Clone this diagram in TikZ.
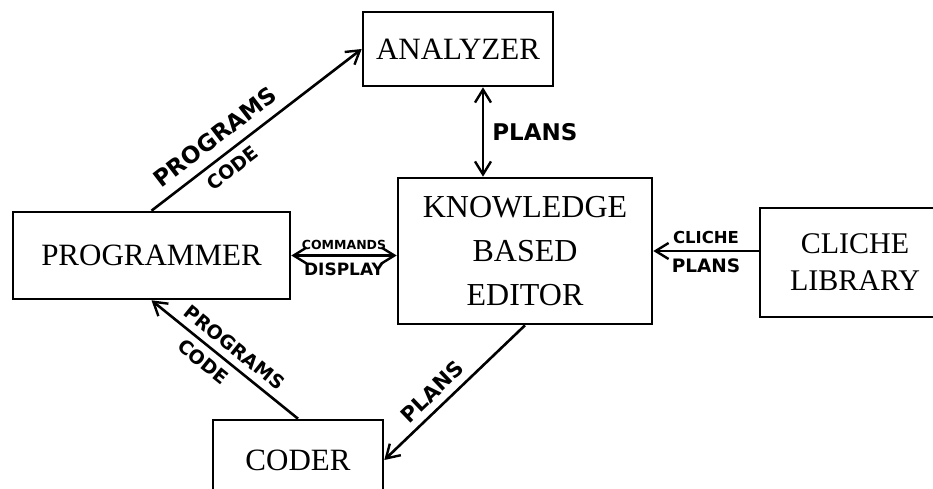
\documentclass[tikz,border=0pt]{standalone}
\usepackage{fontspec}
\setmainfont{Liberation Serif}
\newfontfamily\hand{DejaVu Sans}
\usetikzlibrary{arrows.meta,calc}

\begin{document}
\begin{tikzpicture}[x=1pt,y=-1pt,
  box/.style={draw,line width=2.6pt,inner sep=0pt,align=center,
    font=\fontsize{31}{40}\selectfont},
  link/.style={line width=2.6pt},
  barb/.tip={Straight Barb[length=13pt,width=16pt,line width=2.4pt]},
  tip/.style={-barb},
  dtip/.style={barb-barb},
  lbl/.style={font=\hand\bfseries\fontsize{#1}{#1}\selectfont,inner sep=1pt}]

\useasboundingbox (0,0) rectangle (933,489);

% the five components
\node[box,minimum width=190pt,minimum height=74pt] (ana) at (458,49) {ANALYZER};
\node[box,minimum width=254pt,minimum height=146pt,
      font=\fontsize{32}{44}\selectfont] (kbe) at (525,251)
      {KNOWLEDGE\\BASED\\EDITOR};
\node[box,minimum width=277pt,minimum height=87pt] (prog) at (151.5,255.5) {PROGRAMMER};
\node[box,minimum width=190pt,minimum height=109pt,
      font=\fontsize{30}{37}\selectfont] (cl) at (855,262.5) {CLICHE\\LIBRARY};
\node[box,minimum width=170pt,minimum height=80pt] (coder) at (298,460) {CODER};

% programmer to analyzer
\draw[link,tip] (prog.north) -- (ana.west)
  node[sloped,above=9pt,pos=0.36,lbl=23]{PROGRAMS}
  node[sloped,below=6pt,pos=0.34,lbl=19]{CODE};

% analyzer <-> editor
\coordinate (pa) at ([xshift=25pt]ana.south);
\draw[link,dtip] (pa) -- (pa |- kbe.north)
  node[midway,right=7pt,lbl=23]{PLANS};

% programmer <-> editor
\draw[link,dtip] (prog.east) -- (prog.east -| kbe.west)
  node[midway,above=4pt,lbl=12.5]{COMMANDS}
  node[midway,below=5pt,lbl=17]{DISPLAY};

% cliche library to editor
\draw[link,tip] (kbe.east -| cl.west) -- (kbe.east)
  node[midway,above=5pt,lbl=16.5]{CLICHE}
  node[midway,below=5pt,lbl=18.5]{PLANS};

% coder to programmer
\draw[link,tip] (coder.north) -- (prog.south)
  node[sloped,above=6pt,pos=0.50,lbl=19]{PROGRAMS}
  node[sloped,below=6pt,pos=0.58,lbl=19]{CODE};

% editor to coder
\draw[link,tip] (kbe.south) -- (coder.east)
  node[sloped,above=6pt,pos=0.58,lbl=21]{PLANS};

\end{tikzpicture}
\end{document}
